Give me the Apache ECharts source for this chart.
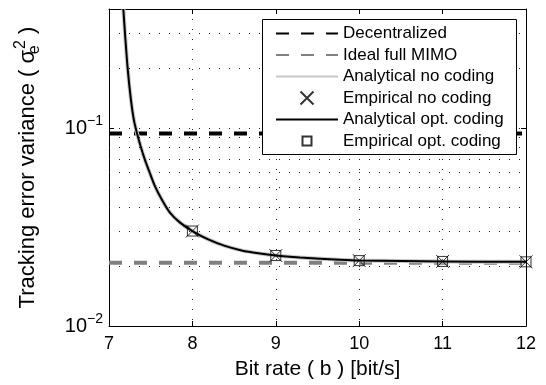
<!DOCTYPE html>
<html>
<head>
<meta charset="utf-8">
<script src="https://cdn.jsdelivr.net/npm/echarts@6/dist/echarts.min.js"></script>
<style>
  html, body { margin: 0; padding: 0; background: #fff; }
  #chart { width: 546px; height: 385px; }
</style>
</head>
<body>
<div id="chart"></div>
<script>
// values
const curveRate = [7.172, 7.192, 7.224, 7.263, 7.298, 7.335, 7.38, 7.43, 7.489, 7.552, 7.633, 7.733, 7.852,
  8.0, 8.19, 8.39, 8.59, 8.79, 9.0, 9.29, 9.77, 10.0, 11.0, 12.0];
const optCoding = [0.4, 0.3, 0.2, 0.139, 0.110, 0.0944, 0.0808, 0.0693, 0.0594, 0.0508, 0.0436, 0.0373, 0.0333,
  0.0302, 0.0274, 0.0254, 0.0241, 0.0233, 0.0227, 0.0222, 0.0216, 0.0214, 0.0212, 0.0211];
// the no-coding analytical curve sits right under the opt. coding one
const noCoding = optCoding.slice();

const markRate = [8, 9, 10, 11, 12];
const empNoCoding = [0.0302, 0.0227, 0.0214, 0.0212, 0.0211];
const empOptCoding = [0.0302, 0.0227, 0.0214, 0.0212, 0.0211];

const decentralized = 0.094;
const idealMimo = 0.0209;
const minorGrid = [0.02, 0.03, 0.04, 0.05, 0.06, 0.07, 0.08, 0.09, 0.2, 0.3];

const FONT = 'Liberation Sans, Arial, Helvetica, sans-serif';
const pairs = (xs, ys) => xs.map((x, i) => [x, ys[i]]);

const chart = echarts.init(document.getElementById('chart'));

const dotted = { type: [1, 9], color: '#222', width: 1 };
const noDot = { opacity: 0 };

chart.setOption({
  animation: false,
  textStyle: { fontFamily: FONT },
  grid: { left: 109, right: 20, top: 9, bottom: 58, containLabel: false },
  // legend box, drawn over the plot so the lines pass underneath it
  graphic: {
    zlevel: 1,
    z: 100,
    elements: [{
      type: 'rect',
      zlevel: 1,
      z: 100,
      silent: true,
      shape: { x: 262.5, y: 19.5, width: 254, height: 135 },
      style: { fill: '#fff', stroke: '#000', lineWidth: 1 }
    }]
  },
  legend: {
    zlevel: 1,
    z: 110,
    orient: 'vertical',
    left: 262,
    top: 19,
    padding: [6, 6, 4, 13],
    itemWidth: 62,
    itemHeight: 13,
    itemGap: 4.5,
    selectedMode: false,
    textStyle: { fontFamily: FONT, fontSize: 17, lineHeight: 17, color: '#000' },
    data: [
      { name: 'Decentralized', itemStyle: noDot },
      { name: 'Ideal full MIMO', itemStyle: noDot },
      { name: 'Analytical no coding', itemStyle: noDot },
      { name: 'Empirical no coding' },
      { name: 'Analytical opt. coding', itemStyle: noDot },
      { name: 'Empirical opt. coding', icon: 'path://M0,0M62,13M26.5,2h9v9h-9z' }
    ]
  },
  xAxis: [{
    type: 'value',
    min: 7,
    max: 12,
    interval: 1,
    name: 'Bit rate ( b ) [bit/s]',
    nameLocation: 'middle',
    nameGap: 33,
    nameTextStyle: { fontFamily: FONT, fontSize: 21, color: '#000' },
    axisLine: { lineStyle: { color: '#000', width: 1 } },
    axisTick: { inside: true, length: 5, lineStyle: { color: '#000' } },
    axisLabel: { fontFamily: FONT, fontSize: 18, color: '#000', margin: 9 },
    splitLine: { show: true, lineStyle: dotted }
  }, {
    type: 'value',
    position: 'top',
    min: 7,
    max: 12,
    interval: 1,
    axisLine: { show: true, lineStyle: { color: '#000', width: 1 } },
    axisTick: { inside: true, length: 5, lineStyle: { color: '#000' } },
    axisLabel: { show: false },
    splitLine: { show: false }
  }],
  yAxis: [{
    type: 'log',
    logBase: 10,
    min: 0.01,
    max: 0.4,
    name: 'Tracking error variance ( σ{sub|e}{sup|2} )',
    nameLocation: 'middle',
    nameGap: 66,
    nameTextStyle: {
      fontFamily: FONT, fontSize: 22, color: '#000', lineHeight: 30,
      rich: {
        sub: { fontFamily: FONT, fontSize: 16, color: '#000', verticalAlign: 'bottom', lineHeight: 15, width: 0 },
        sup: { fontFamily: FONT, fontSize: 16, color: '#000', verticalAlign: 'top', lineHeight: 15, padding: [0, 0, 0, 1] }
      }
    },
    axisLine: { show: true, lineStyle: { color: '#000', width: 1 } },
    axisTick: { inside: true, length: 5, lineStyle: { color: '#000' } },
    axisLabel: {
      margin: 6,
      fontFamily: FONT,
      fontSize: 20,
      color: '#000',
      lineHeight: 28,
      formatter: v => {
        const e = Math.round(Math.log10(v));
        if (Math.abs(Math.log10(v) - e) > 1e-6) return '';
        return '10{sup|−' + Math.abs(e) + '}';
      },
      rich: {
        sup: { fontFamily: FONT, fontSize: 14, color: '#000', verticalAlign: 'top', lineHeight: 14 }
      }
    },
    splitLine: { show: true, lineStyle: dotted }
  }, {
    type: 'log',
    logBase: 10,
    min: 0.01,
    max: 0.4,
    position: 'right',
    axisLine: { show: true, lineStyle: { color: '#000', width: 1 } },
    axisTick: { inside: true, length: 5, lineStyle: { color: '#000' } },
    axisLabel: { show: false },
    splitLine: { show: false }
  }],
  series: [
    {
      // minor log grid (2..9 x 10^k), drawn as dotted mark lines
      name: 'grid',
      type: 'line',
      data: [],
      z: 0,
      silent: true,
      markLine: {
        silent: true,
        symbol: ['none', 'none'],
        label: { show: false },
        lineStyle: dotted,
        emphasis: { disabled: true },
        data: minorGrid.map(v => ({ yAxis: v }))
      }
    },
    {
      name: 'Decentralized',
      type: 'line',
      data: [[7, decentralized], [12, decentralized]],
      symbol: 'none',
      z: 1,
      lineStyle: { color: '#000', width: 4, type: [13, 12] },
      itemStyle: { color: '#000' }
    },
    {
      name: 'Ideal full MIMO',
      type: 'line',
      data: [[7, idealMimo], [12, idealMimo]],
      symbol: 'none',
      z: 1,
      lineStyle: { color: '#808080', width: 4, type: [13, 12] },
      itemStyle: { color: '#808080' }
    },
    {
      name: 'Analytical no coding',
      type: 'line',
      data: pairs(curveRate, noCoding),
      symbol: 'none',
      smooth: 0.3,
      z: 3,
      lineStyle: { color: '#c8c8c8', width: 4 },
      itemStyle: { color: '#c8c8c8' }
    },
    {
      name: 'Analytical opt. coding',
      type: 'line',
      data: pairs(curveRate, optCoding),
      symbol: 'none',
      smooth: 0.3,
      z: 4,
      lineStyle: { color: '#000', width: 2 },
      itemStyle: { color: '#000' }
    },
    {
      name: 'Empirical no coding',
      type: 'scatter',
      data: pairs(markRate, empNoCoding),
      symbol: 'path://M0,0L10,10M0,10L10,0',
      symbolSize: 13,
      z: 5,
      itemStyle: { color: 'transparent', borderColor: '#000', borderWidth: 1 }
    },
    {
      name: 'Empirical opt. coding',
      type: 'scatter',
      data: pairs(markRate, empOptCoding),
      symbol: 'rect',
      symbolSize: 10,
      z: 5,
      itemStyle: { color: 'transparent', borderColor: '#000', borderWidth: 1 }
    }
  ]
});
</script>
</body>
</html>
